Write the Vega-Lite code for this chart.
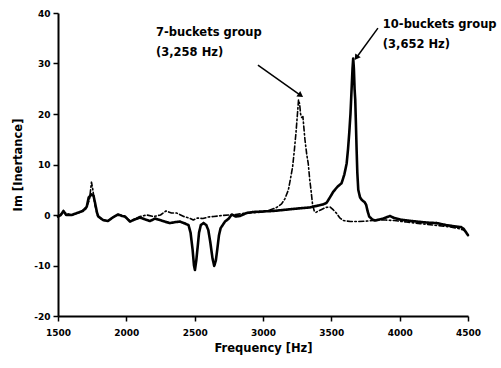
{
  "$schema": "https://vega.github.io/schema/vega-lite/v6.json",
  "width": 410,
  "height": 303,
  "autosize": {"type": "none"},
  "padding": {"left": 58, "top": 13, "right": 33, "bottom": 52},
  "background": "white",
  "config": {
    "view": {"stroke": null},
    "font": "DejaVu Sans",
    "axis": {
      "domainColor": "black", "domainWidth": 2, "tickColor": "black", "tickWidth": 1.5,
      "labelFont": "DejaVu Sans", "labelFontWeight": "bold", "labelFontSize": 9, "labelColor": "black",
      "titleFont": "DejaVu Sans", "titleFontWeight": "bold", "titleFontSize": 11.5, "titleColor": "black",
      "grid": false, "labelFlush": false
    }
  },
  "datasets": {
    "curves": [
      {"f":1500,"v":-0.3,"s":"10-buckets"},{"f":1520,"v":0,"s":"10-buckets"},{"f":1540,"v":0.8,"s":"10-buckets"},{"f":1560,"v":0,"s":"10-buckets"},{"f":1600,"v":0,"s":"10-buckets"},{"f":1650,"v":0.5,"s":"10-buckets"},{"f":1680,"v":0.8,"s":"10-buckets"},{"f":1710,"v":1.6,"s":"10-buckets"},{"f":1725,"v":3.5,"s":"10-buckets"},{"f":1745,"v":4.1,"s":"10-buckets"},{"f":1760,"v":3.8,"s":"10-buckets"},{"f":1772,"v":2.3,"s":"10-buckets"},{"f":1785,"v":0.5,"s":"10-buckets"},{"f":1795,"v":-0.3,"s":"10-buckets"},{"f":1830,"v":-1,"s":"10-buckets"},{"f":1865,"v":-1.2,"s":"10-buckets"},{"f":1900,"v":-0.5,"s":"10-buckets"},{"f":1940,"v":0.1,"s":"10-buckets"},{"f":1970,"v":-0.2,"s":"10-buckets"},{"f":1990,"v":-0.3,"s":"10-buckets"},{"f":2027,"v":-1.3,"s":"10-buckets"},{"f":2060,"v":-0.9,"s":"10-buckets"},{"f":2100,"v":-0.5,"s":"10-buckets"},{"f":2140,"v":-0.9,"s":"10-buckets"},{"f":2173,"v":-1.2,"s":"10-buckets"},{"f":2210,"v":-0.7,"s":"10-buckets"},{"f":2246,"v":-1,"s":"10-buckets"},{"f":2280,"v":-1.3,"s":"10-buckets"},{"f":2319,"v":-1.6,"s":"10-buckets"},{"f":2360,"v":-1.4,"s":"10-buckets"},{"f":2392,"v":-1.3,"s":"10-buckets"},{"f":2430,"v":-1.7,"s":"10-buckets"},{"f":2455,"v":-2,"s":"10-buckets"},{"f":2470,"v":-3.5,"s":"10-buckets"},{"f":2485,"v":-6.9,"s":"10-buckets"},{"f":2495,"v":-10,"s":"10-buckets"},{"f":2502,"v":-10.9,"s":"10-buckets"},{"f":2512,"v":-9,"s":"10-buckets"},{"f":2522,"v":-6.3,"s":"10-buckets"},{"f":2532,"v":-3.5,"s":"10-buckets"},{"f":2545,"v":-2,"s":"10-buckets"},{"f":2565,"v":-1.6,"s":"10-buckets"},{"f":2585,"v":-2,"s":"10-buckets"},{"f":2600,"v":-3,"s":"10-buckets"},{"f":2615,"v":-5.5,"s":"10-buckets"},{"f":2630,"v":-8.5,"s":"10-buckets"},{"f":2643,"v":-10.1,"s":"10-buckets"},{"f":2655,"v":-9,"s":"10-buckets"},{"f":2665,"v":-6.9,"s":"10-buckets"},{"f":2678,"v":-4,"s":"10-buckets"},{"f":2690,"v":-2.6,"s":"10-buckets"},{"f":2722,"v":-1.3,"s":"10-buckets"},{"f":2750,"v":-0.7,"s":"10-buckets"},{"f":2771,"v":0.1,"s":"10-buckets"},{"f":2800,"v":-0.3,"s":"10-buckets"},{"f":2831,"v":-0.2,"s":"10-buckets"},{"f":2880,"v":0.4,"s":"10-buckets"},{"f":2929,"v":0.6,"s":"10-buckets"},{"f":3000,"v":0.7,"s":"10-buckets"},{"f":3075,"v":0.8,"s":"10-buckets"},{"f":3148,"v":1,"s":"10-buckets"},{"f":3221,"v":1.2,"s":"10-buckets"},{"f":3300,"v":1.4,"s":"10-buckets"},{"f":3343,"v":1.5,"s":"10-buckets"},{"f":3392,"v":1.8,"s":"10-buckets"},{"f":3440,"v":2.1,"s":"10-buckets"},{"f":3465,"v":2.4,"s":"10-buckets"},{"f":3490,"v":3.5,"s":"10-buckets"},{"f":3514,"v":4.6,"s":"10-buckets"},{"f":3545,"v":5.6,"s":"10-buckets"},{"f":3575,"v":6.3,"s":"10-buckets"},{"f":3595,"v":8,"s":"10-buckets"},{"f":3612,"v":10.2,"s":"10-buckets"},{"f":3622,"v":13,"s":"10-buckets"},{"f":3631,"v":16.2,"s":"10-buckets"},{"f":3640,"v":20,"s":"10-buckets"},{"f":3648,"v":24.8,"s":"10-buckets"},{"f":3655,"v":29,"s":"10-buckets"},{"f":3660,"v":31,"s":"10-buckets"},{"f":3665,"v":29,"s":"10-buckets"},{"f":3670,"v":25,"s":"10-buckets"},{"f":3675,"v":22.8,"s":"10-buckets"},{"f":3680,"v":18,"s":"10-buckets"},{"f":3685,"v":12.9,"s":"10-buckets"},{"f":3690,"v":8.5,"s":"10-buckets"},{"f":3697,"v":5,"s":"10-buckets"},{"f":3710,"v":3.5,"s":"10-buckets"},{"f":3722,"v":3,"s":"10-buckets"},{"f":3745,"v":2.5,"s":"10-buckets"},{"f":3755,"v":2,"s":"10-buckets"},{"f":3765,"v":0.8,"s":"10-buckets"},{"f":3777,"v":-0.3,"s":"10-buckets"},{"f":3800,"v":-0.9,"s":"10-buckets"},{"f":3819,"v":-1.1,"s":"10-buckets"},{"f":3850,"v":-0.9,"s":"10-buckets"},{"f":3880,"v":-0.7,"s":"10-buckets"},{"f":3929,"v":-0.2,"s":"10-buckets"},{"f":3960,"v":-0.6,"s":"10-buckets"},{"f":4002,"v":-0.9,"s":"10-buckets"},{"f":4060,"v":-1.1,"s":"10-buckets"},{"f":4124,"v":-1.3,"s":"10-buckets"},{"f":4200,"v":-1.5,"s":"10-buckets"},{"f":4270,"v":-1.6,"s":"10-buckets"},{"f":4340,"v":-2,"s":"10-buckets"},{"f":4417,"v":-2.3,"s":"10-buckets"},{"f":4450,"v":-2.4,"s":"10-buckets"},{"f":4470,"v":-2.8,"s":"10-buckets"},{"f":4485,"v":-3.4,"s":"10-buckets"},{"f":4500,"v":-4,"s":"10-buckets"},
      {"f":1500,"v":-0.3,"s":"7-buckets"},{"f":1540,"v":0.5,"s":"7-buckets"},{"f":1600,"v":0,"s":"7-buckets"},{"f":1650,"v":0.4,"s":"7-buckets"},{"f":1700,"v":1,"s":"7-buckets"},{"f":1730,"v":3,"s":"7-buckets"},{"f":1745,"v":6.5,"s":"7-buckets"},{"f":1755,"v":5,"s":"7-buckets"},{"f":1770,"v":2,"s":"7-buckets"},{"f":1790,"v":-0.2,"s":"7-buckets"},{"f":1830,"v":-1,"s":"7-buckets"},{"f":1865,"v":-1.2,"s":"7-buckets"},{"f":1900,"v":-0.5,"s":"7-buckets"},{"f":1940,"v":0.1,"s":"7-buckets"},{"f":1990,"v":-0.3,"s":"7-buckets"},{"f":2027,"v":-1.2,"s":"7-buckets"},{"f":2060,"v":-0.8,"s":"7-buckets"},{"f":2100,"v":-0.3,"s":"7-buckets"},{"f":2150,"v":0,"s":"7-buckets"},{"f":2200,"v":-0.3,"s":"7-buckets"},{"f":2250,"v":0,"s":"7-buckets"},{"f":2290,"v":0.8,"s":"7-buckets"},{"f":2330,"v":0.4,"s":"7-buckets"},{"f":2368,"v":0.4,"s":"7-buckets"},{"f":2420,"v":-0.3,"s":"7-buckets"},{"f":2460,"v":-0.6,"s":"7-buckets"},{"f":2490,"v":-1,"s":"7-buckets"},{"f":2520,"v":-0.6,"s":"7-buckets"},{"f":2560,"v":-0.7,"s":"7-buckets"},{"f":2600,"v":-0.4,"s":"7-buckets"},{"f":2640,"v":-0.3,"s":"7-buckets"},{"f":2700,"v":-0.1,"s":"7-buckets"},{"f":2750,"v":0,"s":"7-buckets"},{"f":2800,"v":0.1,"s":"7-buckets"},{"f":2850,"v":0.3,"s":"7-buckets"},{"f":2950,"v":0.5,"s":"7-buckets"},{"f":3000,"v":0.6,"s":"7-buckets"},{"f":3051,"v":1,"s":"7-buckets"},{"f":3100,"v":1.5,"s":"7-buckets"},{"f":3136,"v":2.2,"s":"7-buckets"},{"f":3160,"v":3.2,"s":"7-buckets"},{"f":3185,"v":4.9,"s":"7-buckets"},{"f":3200,"v":7,"s":"7-buckets"},{"f":3217,"v":9.6,"s":"7-buckets"},{"f":3230,"v":13,"s":"7-buckets"},{"f":3241,"v":16.2,"s":"7-buckets"},{"f":3252,"v":20,"s":"7-buckets"},{"f":3260,"v":22.8,"s":"7-buckets"},{"f":3268,"v":22,"s":"7-buckets"},{"f":3275,"v":20,"s":"7-buckets"},{"f":3283,"v":19.3,"s":"7-buckets"},{"f":3292,"v":19.5,"s":"7-buckets"},{"f":3300,"v":17,"s":"7-buckets"},{"f":3307,"v":14.9,"s":"7-buckets"},{"f":3320,"v":12,"s":"7-buckets"},{"f":3331,"v":10.2,"s":"7-buckets"},{"f":3342,"v":7,"s":"7-buckets"},{"f":3351,"v":5,"s":"7-buckets"},{"f":3363,"v":2,"s":"7-buckets"},{"f":3375,"v":0.8,"s":"7-buckets"},{"f":3387,"v":0.5,"s":"7-buckets"},{"f":3405,"v":0.8,"s":"7-buckets"},{"f":3429,"v":1.1,"s":"7-buckets"},{"f":3460,"v":1.5,"s":"7-buckets"},{"f":3490,"v":1.6,"s":"7-buckets"},{"f":3515,"v":1,"s":"7-buckets"},{"f":3539,"v":0.3,"s":"7-buckets"},{"f":3560,"v":-0.5,"s":"7-buckets"},{"f":3587,"v":-1.1,"s":"7-buckets"},{"f":3640,"v":-1.3,"s":"7-buckets"},{"f":3697,"v":-1.3,"s":"7-buckets"},{"f":3760,"v":-1.2,"s":"7-buckets"},{"f":3831,"v":-1,"s":"7-buckets"},{"f":3900,"v":-1,"s":"7-buckets"},{"f":3960,"v":-1.1,"s":"7-buckets"},{"f":4050,"v":-1.4,"s":"7-buckets"},{"f":4150,"v":-1.7,"s":"7-buckets"},{"f":4250,"v":-2,"s":"7-buckets"},{"f":4350,"v":-2.3,"s":"7-buckets"},{"f":4420,"v":-2.6,"s":"7-buckets"},{"f":4460,"v":-2.9,"s":"7-buckets"},{"f":4485,"v":-3.3,"s":"7-buckets"}
    ],
    "labels": [
      {"f":2217,"v":36,"t":"7-buckets group"},
      {"f":2217,"v":32.1,"t":"(3,258 Hz)"},
      {"f":3877,"v":37.6,"t":"10-buckets group"},
      {"f":3877,"v":33.7,"t":"(3,652 Hz)"}
    ],
    "arrow1": [{"f":2963,"v":29.7,"f2":3270,"v2":23.8}],
    "arrow2": [{"f":3841,"v":37,"f2":3687,"v2":31.3}]
  },
  "layer": [
    {
      "data": {"name": "curves"},
      "mark": {"type": "line", "color": "black", "strokeCap": "round", "strokeJoin": "round"},
      "encoding": {
        "x": {"field": "f", "type": "quantitative",
          "scale": {"domain": [1500, 4500], "nice": false, "zero": false},
          "axis": {"values": [1500,1750,2000,2250,2500,2750,3000,3250,3500,3750,4000,4250,4500],
            "labelExpr": "datum.value % 500 === 0 ? toString(datum.value) : ''",
            "labelOverlap": false, "tickSize": {"condition": {"test": "datum.value % 500 === 0", "value": 5}, "value": 3},
            "labelPadding": 7, "title": "Frequency [Hz]", "titlePadding": 5}},
        "y": {"field": "v", "type": "quantitative",
          "scale": {"domain": [-20, 40], "nice": false, "zero": false},
          "axis": {"values": [-20,-15,-10,-5,0,5,10,15,20,25,30,35,40],
            "labelExpr": "datum.value % 10 === 0 ? toString(datum.value) : ''",
            "labelOverlap": false, "tickSize": {"condition": {"test": "datum.value % 10 === 0", "value": 5}, "value": 3},
            "labelPadding": 3, "title": "Im [Inertance]", "titlePadding": 10}},
        "detail": {"field": "s"},
        "strokeWidth": {"field": "s", "type": "nominal", "scale": {"domain": ["10-buckets", "7-buckets"], "range": [2.6, 1.6]}, "legend": null},
        "strokeDash": {"field": "s", "type": "nominal", "scale": {"domain": ["10-buckets", "7-buckets"], "range": [[1, 0], [5, 2.5, 1.5, 2.5]]}, "legend": null},
        "order": {"field": "f", "type": "quantitative"}
      }
    },
    {
      "data": {"name": "labels"},
      "mark": {"type": "text", "align": "left", "baseline": "middle", "font": "DejaVu Sans", "fontWeight": "bold", "fontSize": 11.5, "color": "black"},
      "encoding": {
        "x": {"field": "f", "type": "quantitative"},
        "y": {"field": "v", "type": "quantitative"},
        "text": {"field": "t"}
      }
    },
    {
      "data": {"name": "arrow1"},
      "mark": {"type": "rule", "color": "black", "strokeWidth": 1.5},
      "encoding": {
        "x": {"field": "f", "type": "quantitative"}, "y": {"field": "v", "type": "quantitative"},
        "x2": {"field": "f2"}, "y2": {"field": "v2"}
      }
    },
    {
      "data": {"name": "arrow1"},
      "mark": {"type": "point", "shape": "triangle", "filled": true, "color": "black", "size": 45, "angle": 125, "opacity": 1},
      "encoding": {
        "x": {"field": "f2", "type": "quantitative"}, "y": {"field": "v2", "type": "quantitative"}
      }
    },
    {
      "data": {"name": "arrow2"},
      "mark": {"type": "rule", "color": "black", "strokeWidth": 1.5},
      "encoding": {
        "x": {"field": "f", "type": "quantitative"}, "y": {"field": "v", "type": "quantitative"},
        "x2": {"field": "f2"}, "y2": {"field": "v2"}
      }
    },
    {
      "data": {"name": "arrow2"},
      "mark": {"type": "point", "shape": "triangle", "filled": true, "color": "black", "size": 45, "angle": 216, "opacity": 1},
      "encoding": {
        "x": {"field": "f2", "type": "quantitative"}, "y": {"field": "v2", "type": "quantitative"}
      }
    }
  ]
}
